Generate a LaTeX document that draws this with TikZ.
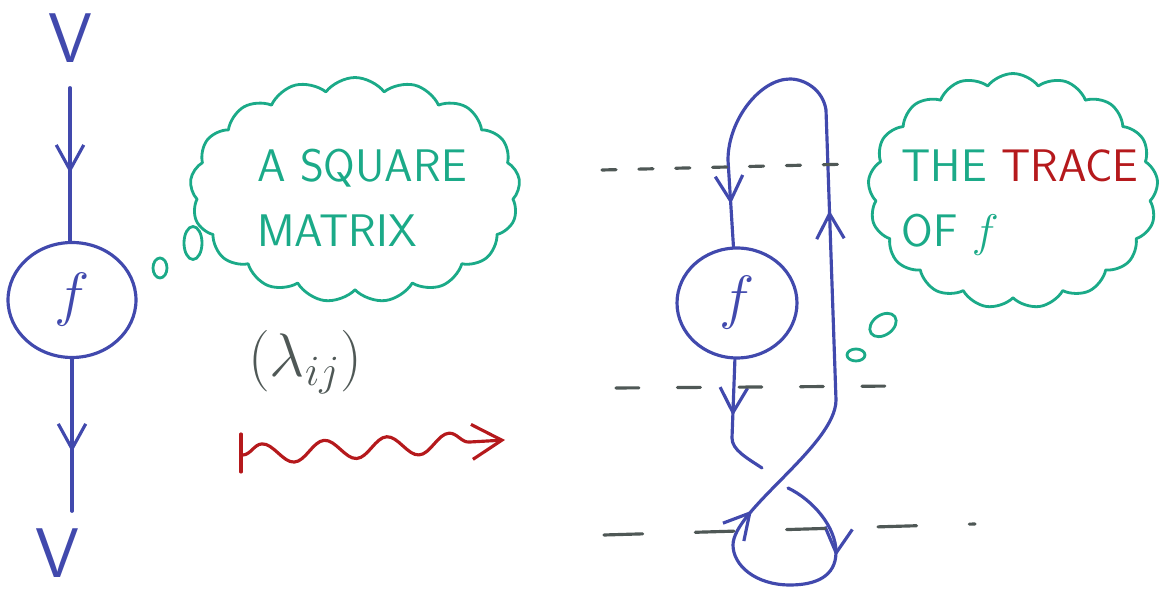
\RequirePackage{fix-cm}
\documentclass[tikz,border=0pt]{standalone}
\usepackage{tikz}
\usetikzlibrary{shapes.geometric,shapes.symbols,arrows.meta,decorations.markings,decorations.pathmorphing}
\definecolor{pen}{HTML}{4149AD}
\definecolor{mint}{HTML}{1BAA88}
\definecolor{ink}{HTML}{B5191C}
\definecolor{slate}{HTML}{4F5856}

\begin{document}
\begin{tikzpicture}[x=0.02cm,y=-0.02cm,line cap=round,line join=round,
  >={Straight Barb[length=5mm,width=5.5mm]},
  vee/.style={text=pen,font=\fontsize{40}{40}\selectfont\sffamily,inner sep=0pt},
  blob/.style={draw=pen,line width=1.8pt,ellipse,text=pen,font=\fontsize{34}{34}\selectfont},
  strand/.style={draw=pen,line width=1.8pt},
  mid/.style={postaction={decorate},decoration={markings,mark=at position #1 with {\arrow{>}}}},
  think/.style={cloud,draw=mint,line width=1.6pt,cloud puffs=17,cloud puff arc=105,cloud ignores aspect},
  puff/.style={ellipse,draw=mint,line width=1.6pt,inner sep=0pt},
  say/.style={text=mint,font=\fontsize{26}{37}\selectfont\sffamily,align=left},
  cut/.style={draw=slate,line width=1.8pt,dash pattern=#1}]
\useasboundingbox (0,0) rectangle (1161,590);

% left: the map f from V to V
\node[vee](vin) at (70,38){V};
\node[vee](vout) at (57,553){V};
\node[blob,minimum width=2.56cm,minimum height=2.3cm](fl) at (72,300){$f$};
\draw[strand,mid=0.62,shorten <=0.5cm](vin)--(vin |- fl.north);
\draw[strand,mid=0.55,shorten >=0.34cm](fl)--(fl |- vout.north);

\node[puff,minimum width=0.28cm,minimum height=0.4cm](bA1) at (160,268){};
\node[puff,minimum width=0.36cm,minimum height=0.66cm](bA2) at (193,243){};
\node[think,minimum width=6.6cm,minimum height=4.5cm](cA) at (355,190){};
\node[say](tA) at (362,198){A SQUARE\\MATRIX};

\node[text=slate,font=\fontsize{35}{35}\selectfont](lam) at (305,362){$(\lambda_{ij})$};
\coordinate(wt) at (241,434); \coordinate(wb) at (241,472);
\coordinate(w0) at (243,455); \coordinate(w1) at (505,440);
\draw[ink,line width=1.8pt](wt)--(wb);
\draw[ink,line width=1.8pt,-{Straight Barb[length=6mm,width=7mm]},decorate,
  decoration={snake,segment length=1.25cm,amplitude=0.2cm,post length=0.5cm}](w0)--(w1);

% right: closing the loop
\node[blob,minimum width=2.4cm,minimum height=2.2cm](fr) at (737,303){$f$};
\coordinate(dl) at (732,438); \coordinate(ua) at (762,468);
\coordinate(ub) at (788,488); \coordinate(br) at (836,552);
\coordinate(bb) at (790,585); \coordinate(bl) at (733,545);
\coordinate(rs) at (836,400); \coordinate(rt) at (826,110);
\coordinate(tp) at (790,79);  \coordinate(lt) at (728,160);

\draw[strand,mid=0.46](fr)--(dl) .. controls +(0,12) and +(-15,-10) .. (ua);
\draw[strand,postaction={decorate},decoration={markings,
  mark=at position 0.093 with {\arrow{>}},mark=at position 0.28 with {\arrow{>}},
  mark=at position 0.63 with {\arrow{>}},mark=at position 0.955 with {\arrow{>}}}]
  (ub) .. controls +(25,12) and +(0,-25) .. (br) .. controls +(0,25) and +(25,0) .. (bb)
  .. controls +(-35,0) and +(0,20) .. (bl) .. controls +(0,-35) and +(0,45) .. (rs)
  --(rt) .. controls +(-3,-20) and +(15,0) .. (tp) .. controls +(-30,0) and +(0,-40) .. (lt)--(fr);

\coordinate(d1a) at (602,170); \coordinate(d1b) at (853,164);
\coordinate(d2a) at (616,388); \coordinate(d2b) at (900,386);
\coordinate(d3a) at (604,535); \coordinate(d3b) at (975,524);
\draw[cut={on 8pt off 13pt}](d1a)--(d1b);
\draw[cut={on 13pt off 22pt}](d2a)--(d2b);
\draw[cut={on 22pt off 30pt}](d3a)--(d3b);

\node[puff,minimum width=0.36cm,minimum height=0.24cm](bB1) at (856,355){};
\node[puff,rotate=35,minimum width=0.58cm,minimum height=0.4cm](bB2) at (883,325){};
\node[think,minimum width=5.8cm,minimum height=4.7cm](cB) at (1013,191){};
\node[say](tB) at (1020,203){THE \textcolor{ink}{TRACE}\\OF $f$};
\end{tikzpicture}
\end{document}
